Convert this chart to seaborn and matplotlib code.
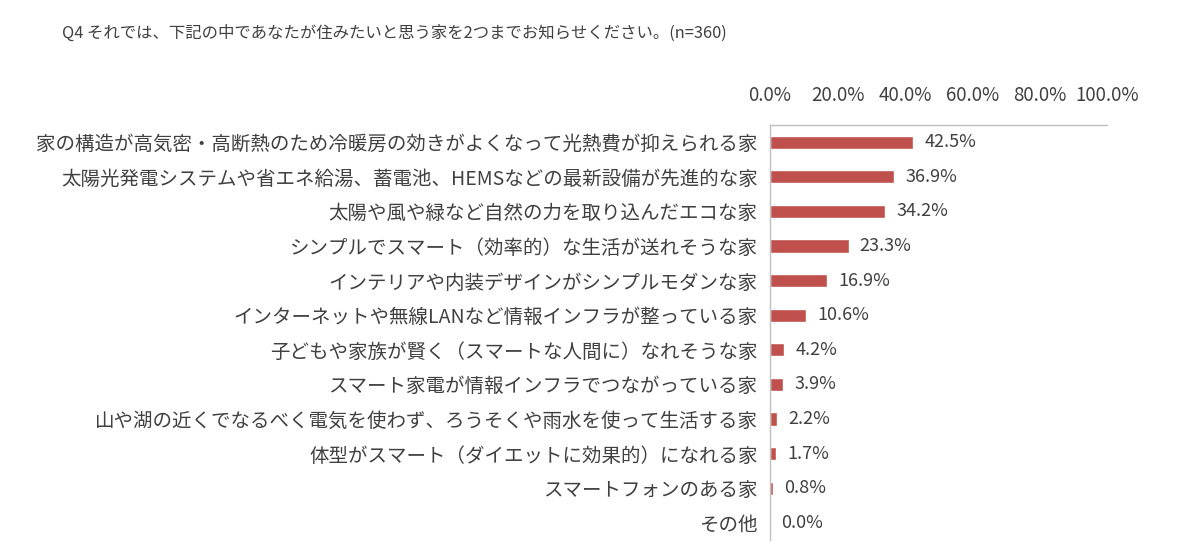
"""
住みたいと思う家（Q4）の回答割合を横棒グラフで描くスクリプト。
"""
import numpy as np
import seaborn as sns
import matplotlib.pyplot as plt
from matplotlib.ticker import FixedLocator

# 回答項目と割合（%）
labels = [
    "家の構造が高気密・高断熱のため冷暖房の効きがよくなって光熱費が抑えられる家",
    "太陽光発電システムや省エネ給湯、蓄電池、HEMSなどの最新設備が先進的な家",
    "太陽や風や緑など自然の力を取り込んだエコな家",
    "シンプルでスマート（効率的）な生活が送れそうな家",
    "インテリアや内装デザインがシンプルモダンな家",
    "インターネットや無線LANなど情報インフラが整っている家",
    "子どもや家族が賢く（スマートな人間に）なれそうな家",
    "スマート家電が情報インフラでつながっている家",
    "山や湖の近くでなるべく電気を使わず、ろうそくや雨水を使って生活する家",
    "体型がスマート（ダイエットに効果的）になれる家",
    "スマートフォンのある家",
    "その他",
]
values = [42.5, 36.9, 34.2, 23.3, 16.9, 10.6, 4.2, 3.9, 2.2, 1.7, 0.8, 0.0]
xticks = [0, 20, 40, 60, 80, 100]

title = "Q4 それでは、下記の中であなたが住みたいと思う家を2つまでお知らせください。(n=360)"

sns.set_style("white")
plt.rcParams['font.family'] = ['Noto Sans CJK JP', 'DejaVu Sans']

text_color = "#404040"
bar_color = "#C0504D"
line_color = "#BFBFBF"

fig = plt.figure(figsize=(12, 5.54), dpi=100)
ax = fig.add_axes([0.6417, 0.0253, 0.281, 0.7491])

sns.barplot(x=values, y=labels, orient="h", color=bar_color, width=0.38,
            saturation=1, ax=ax)

# 値ラベル
for cont in ax.containers:
    ax.bar_label(cont, labels=[f"{v:.1f}%" for v in values], padding=8,
                 fontsize=13, color=text_color)

ax.set_xlim(0, 100)
ax.set_ylim(len(labels) - 0.5, -0.5)
ax.xaxis.tick_top()
ax.set_xticks(xticks)
ax.set_xticklabels([f"{t:.1f}%" for t in xticks], fontsize=13.5, color=text_color)
ax.tick_params(axis="x", length=0, pad=14)
ax.tick_params(axis="y", which="major", length=0, pad=9, labelsize=14,
               labelcolor=text_color)
ax.yaxis.set_minor_locator(FixedLocator(np.arange(-0.5, len(labels), 1.0)))
ax.tick_params(axis="y", which="minor", direction="in", length=5,
               color=line_color, width=1)

for side in ["right", "bottom"]:
    ax.spines[side].set_visible(False)
for side in ["left", "top"]:
    ax.spines[side].set_color(line_color)
    ax.spines[side].set_linewidth(1)
ax.set_xlabel("")
ax.set_ylabel("")

fig.text(62 / 1200, 1 - 33 / 554, title, fontsize=11.8, color=text_color,
         va="center", ha="left")

plt.savefig("out.png", dpi=100)
plt.close()
